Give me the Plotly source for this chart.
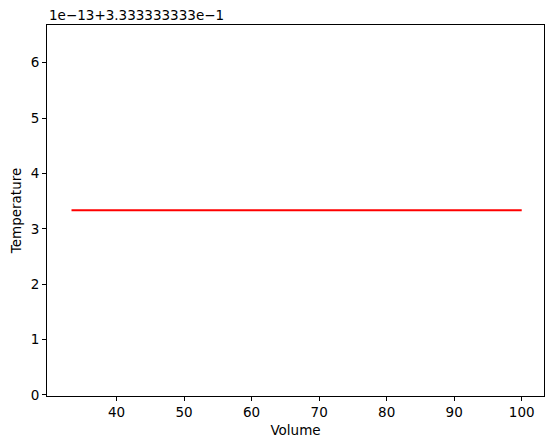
import plotly.graph_objects as go

# Volume values and temperature (shown as offset in units of 1e-13 from 0.3333333333)
volume = [33.33, 40, 45, 50, 55, 60, 65, 70, 75, 80, 85, 90, 95, 100]
temperature_offset = [3.333, 3.333, 3.333, 3.330, 3.333, 3.333, 3.333, 3.330, 3.333, 3.333, 3.333, 3.333, 3.333, 3.333]
x_ticks = [40, 50, 60, 70, 80, 90, 100]
y_ticks = [0, 1, 2, 3, 4, 5, 6]
offset_label = "1e\u221213+3.333333333e\u22121"

fig = go.Figure()
fig.add_trace(go.Scatter(x=volume, y=temperature_offset, mode="lines",
                         line=dict(color="red", width=2), showlegend=False))

axis_common = dict(showline=True, linecolor="black", linewidth=1, mirror=True,
                   ticks="outside", ticklen=4, tickcolor="black", showgrid=False,
                   zeroline=False, automargin=False,
                   tickfont=dict(size=13.5, color="black"))

fig.update_layout(
    width=546, height=440,
    margin=dict(l=39, r=10, t=17, b=52),
    paper_bgcolor="white", plot_bgcolor="white",
    font=dict(family="DejaVu Sans", color="black", size=13.5),
    xaxis=dict(range=[29.7, 103.3], tickvals=x_ticks,
               title=dict(text="Volume", standoff=6, font=dict(size=13.5, color="black")), **axis_common),
    yaxis=dict(range=[-0.02, 6.68], tickvals=y_ticks,
               title=dict(text="Temperature", standoff=8, font=dict(size=13.5, color="black")), **axis_common),
    annotations=[dict(text=offset_label, xref="paper", yref="paper", x=0, y=1,
                      xanchor="left", yanchor="bottom", showarrow=False,
                      font=dict(size=13.5, color="black"), yshift=0)],
)

fig.write_html("out.html")
